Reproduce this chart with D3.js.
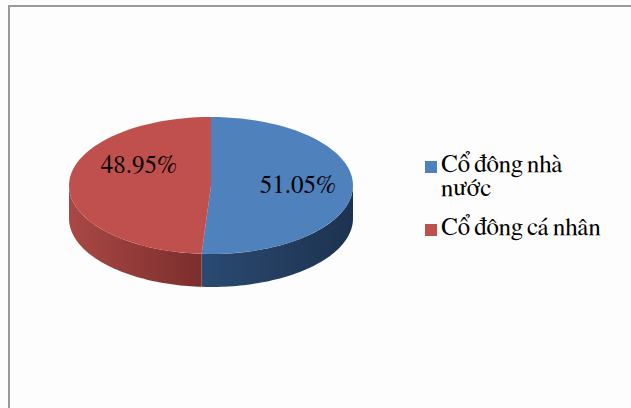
<!DOCTYPE html>
<html>
<head>
<meta charset="utf-8">
<script src="https://cdn.jsdelivr.net/npm/d3@7"></script>
</head>
<body style="margin:0; background:#fdfdfd">
<script>
// chart data
var categories = ["Cổ đông nhà nước", "Cổ đông cá nhân"];
var values = [51.05, 48.95];
var labels = ["51.05%", "48.95%"];
var legendLines = [["Cổ đông nhà", "nước"], ["Cổ đông cá nhân"]];

var width = 631, height = 408;
var topColor = ["#4f81bd", "#c0504d"];
var sideDark = ["#1d3250", "#7a2d2b"];
var sideLight = ["#2b4b72", "#a84845"];
var font = "FreeSerif";

var cx = 211, cy = 185.5, rx = 142, ry = 68.5, depth = 33;

var svg = d3.select("body").append("svg")
  .attr("width", width)
  .attr("height", height);

// frame
svg.append("rect")
  .attr("x", 9).attr("y", 6)
  .attr("width", width + 10).attr("height", height + 10)
  .attr("fill", "#fdfdfd")
  .attr("stroke", "#9a9a9a")
  .attr("stroke-width", 2);

var pie = d3.pie().sort(null).value(function (d) { return d; });
var arcs = pie(values);

function px(a) { return cx + rx * Math.sin(a); }
function py(a, dy) { return cy - ry * Math.cos(a) + (dy || 0); }

// points along the ellipse from a0 to a1
function ellipseArc(a0, a1, dy) {
  var n = 60, pts = [];
  for (var i = 0; i <= n; i++) {
    var a = a0 + (a1 - a0) * i / n;
    pts.push([px(a), py(a, dy)]);
  }
  return pts;
}

var defs = svg.append("defs");
arcs.forEach(function (d, i) {
  var g = defs.append("linearGradient")
    .attr("id", "side" + i)
    .attr("gradientUnits", "userSpaceOnUse")
    .attr("x1", cx - rx).attr("x2", cx + rx)
    .attr("y1", 0).attr("y2", 0);
  if (i == 0) {
    g.append("stop").attr("offset", 0.45).attr("stop-color", sideLight[i]);
    g.append("stop").attr("offset", 1).attr("stop-color", sideDark[i]);
  } else {
    g.append("stop").attr("offset", 0).attr("stop-color", sideLight[i]);
    g.append("stop").attr("offset", 0.48).attr("stop-color", sideDark[i]);
  }
});

var line = d3.line();

// sides (only the front half, pi/2 .. 3pi/2)
arcs.forEach(function (d, i) {
  var a0 = Math.max(d.startAngle, Math.PI / 2);
  var a1 = Math.min(d.endAngle, 3 * Math.PI / 2);
  if (a1 <= a0) return;
  var pts = ellipseArc(a0, a1, 0).concat(ellipseArc(a1, a0, depth));
  svg.append("path")
    .attr("d", line(pts) + "Z")
    .attr("fill", "url(#side" + i + ")");
});

// top
arcs.forEach(function (d, i) {
  var pts = [[cx, cy]].concat(ellipseArc(d.startAngle, d.endAngle, 0));
  svg.append("path")
    .attr("d", line(pts) + "Z")
    .attr("fill", topColor[i]);
});

// labels
var labelPos = [[298, 193], [139, 173]];
svg.selectAll(".lbl")
  .data(labels).enter()
  .append("text")
  .attr("class", "lbl")
  .attr("x", function (d, i) { return labelPos[i][0]; })
  .attr("y", function (d, i) { return labelPos[i][1]; })
  .attr("text-anchor", "middle")
  .attr("font-family", function () { return font; })
  .attr("font-size", 25)
  .text(function (d) { return d; });

// legend
var legY = [172, 235];
var leg = svg.selectAll(".leg")
  .data(categories).enter()
  .append("g")
  .attr("class", "leg");

leg.append("rect")
  .attr("x", 425)
  .attr("y", function (d, i) { return legY[i] - 11; })
  .attr("width", 12).attr("height", 12)
  .attr("fill", function (d, i) { return topColor[i]; });

leg.append("text")
  .attr("x", 441)
  .attr("y", function (d, i) { return legY[i]; })
  .attr("font-family", function () { return font; })
  .attr("font-size", 25)
  .attr("word-spacing", -2)
  .each(function (d, i) {
    var t = d3.select(this);
    legendLines[i].forEach(function (s, j) {
      t.append("tspan")
        .attr("x", 441)
        .attr("dy", j == 0 ? 0 : 24)
        .text(s);
    });
  });
</script>
</body>
</html>
